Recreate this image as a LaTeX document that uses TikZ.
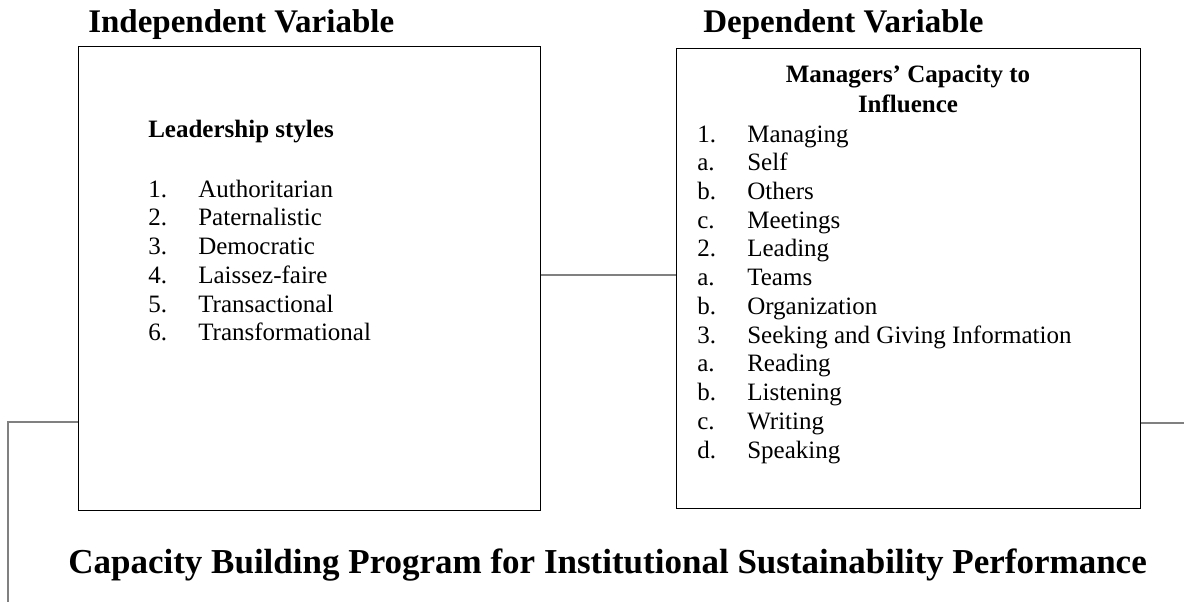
\documentclass[tikz,border=0pt]{standalone}
\usepackage{fontspec}
\setmainfont{Liberation Serif}
\usetikzlibrary{positioning}

\begin{document}
\begin{tikzpicture}[x=1pt, y=-1pt, semithick,
    varbox/.style={draw, line width=1pt, inner sep=0pt},
    title/.style={font=\fontsize{33}{38}\selectfont\bfseries, inner sep=0pt},
    bigtitle/.style={font=\fontsize{35}{40}\selectfont\bfseries, inner sep=0pt},
    heading/.style={font=\fontsize{25}{30}\selectfont\bfseries, inner sep=0pt},
    items/.style={font=\fontsize{25}{28.75}\selectfont, inner sep=0pt},
    link/.style={draw=black!50, line width=1.5pt}]
    \useasboundingbox (0,0) rectangle (1184,602);

    \node[varbox, minimum width=462pt, minimum height=463pt] (IV) at (309,278.5) {};
    \node[varbox, minimum width=464pt, minimum height=459pt] (DV) at (908,278.5) {};

    \node[title, anchor=base west]    (IVtitle) at (88,33)  {Independent Variable};
    \node[title, anchor=base west]    (DVtitle) at (703,33) {Dependent Variable};
    \node[bigtitle, anchor=base west] (CBP)     at (68,573) {Capacity Building Program for Institutional Sustainability Performance};

    \node[heading, anchor=base west] (styles) at (148,137) {Leadership styles};
    \node[items, anchor=base west] (stylelist) at (148,197) {\begin{tabular}[t]{@{}p{50pt}@{}l@{}}
        1. & Authoritarian\\
        2. & Paternalistic\\
        3. & Democratic\\
        4. & Laissez-faire\\
        5. & Transactional\\
        6. & Transformational
    \end{tabular}};

    \node[heading, anchor=base] (capacity) at (908,82) {\begin{tabular}[t]{@{}c@{}}Managers’ Capacity to\\Influence\end{tabular}};
    \node[items, anchor=base west] (capacitylist) at (697,142) {\begin{tabular}[t]{@{}p{50pt}@{}l@{}}
        1. & Managing\\
        a. & Self\\
        b. & Others\\
        c. & Meetings\\
        2. & Leading\\
        a. & Teams\\
        b. & Organization\\
        3. & Seeking and Giving Information\\
        a. & Reading\\
        b. & Listening\\
        c. & Writing\\
        d. & Speaking
    \end{tabular}};

    \coordinate (leftend)  at (8,602);
    \coordinate (rightend) at (1184,423);

    \path[link] ([yshift=3.5pt]IV.east) -- ([yshift=3.5pt]DV.west);
    \path[link] ([yshift=-143.5pt]IV.west) -| (leftend);
    \path[link] ([yshift=-144.5pt]DV.east) -- (rightend);
\end{tikzpicture}
\end{document}
